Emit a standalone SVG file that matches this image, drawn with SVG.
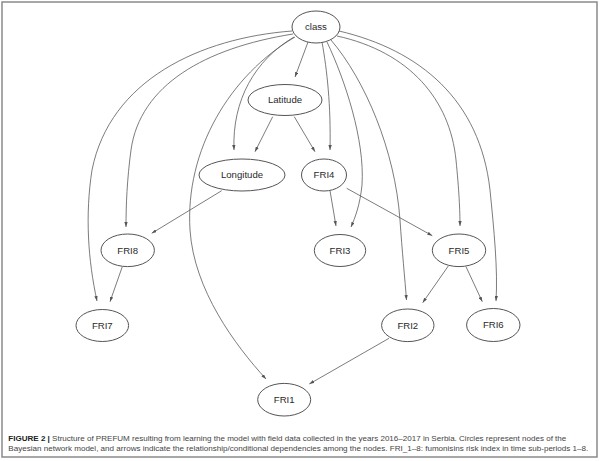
<svg xmlns="http://www.w3.org/2000/svg" width="600" height="461" viewBox="0 0 600 461">
<style>
.node ellipse{fill:#fff;stroke:#555;stroke-width:1}
.node text{font-family:"Liberation Sans",Arial,sans-serif;font-size:9.6px;fill:#2a2a2a;text-anchor:middle}
.edges path{fill:none;stroke:#5a5a5a;stroke-width:0.8;marker-end:url(#ah)}
.cap{font-family:"Liberation Sans",Arial,sans-serif;font-size:8px;fill:#444}
</style>
<defs>
<marker id="ah" viewBox="0 0 6 4" refX="6" refY="2" markerWidth="5" markerHeight="3.5" markerUnits="userSpaceOnUse" orient="auto">
<path d="M0,0 L6,2 L0,4 z" fill="#555"/>
</marker>
</defs>
<rect x="0" y="0" width="600" height="461" fill="#fff"/>
<rect x="2" y="2" width="595" height="455" fill="none" stroke="#8a8a8a" stroke-width="1.5"/>
<g class="edges">
<path d="M292,31 C200,38 110,80 92,170 C85,215 88,260 97,301"/>
<path d="M293,34 C205,48 140,85 131,150 C127,180 126,205 126,227"/>
<path d="M295,37 C230,75 185,150 190,230 C194,290 235,345 266,379"/>
<path d="M294,37 C255,60 232,100 234,150"/>
<path d="M308,42 L295,77"/>
<path d="M322,42 C327,70 331,105 330,150"/>
<path d="M327,42 C345,80 365,140 362,185 C360,205 355,218 351,227"/>
<path d="M331,40 C365,80 395,150 400,220 C402,250 405,280 406.5,300"/>
<path d="M337,36 C410,52 450,100 456,160 C459,190 460,210 460,226"/>
<path d="M339,31 C420,50 480,100 490,190 C494,230 498,270 496,301"/>
<path d="M272.7,116.7 L255,151.7"/>
<path d="M294.3,116.7 L315,151.7"/>
<path d="M221.7,190.7 L151.7,233.3"/>
<path d="M330,190.7 L336,226"/>
<path d="M346.7,188.3 L432.3,235.7"/>
<path d="M122.3,266.7 L110,301.7"/>
<path d="M448.3,266 L422.7,302.7"/>
<path d="M466,266.7 L482.3,301.7"/>
<path d="M389,338.3 L309.3,384"/>
</g>
<g id="class" class="node"><ellipse cx="316" cy="27" rx="24" ry="16"/><text x="316" y="30.4">class</text></g>
<g id="Latitude" class="node"><ellipse cx="285" cy="100" rx="37" ry="15.5"/><text x="285" y="103.4">Latitude</text></g>
<g id="Longitude" class="node"><ellipse cx="242" cy="175" rx="43" ry="16"/><text x="242" y="178.4">Longitude</text></g>
<g id="FRI4" class="node"><ellipse cx="324" cy="175" rx="22.5" ry="16"/><text x="324" y="178.4">FRI4</text></g>
<g id="FRI8" class="node"><ellipse cx="127.7" cy="250.3" rx="26.7" ry="16.3"/><text x="127.7" y="253.7">FRI8</text></g>
<g id="FRI3" class="node"><ellipse cx="340" cy="250.5" rx="25.7" ry="16"/><text x="340" y="253.9">FRI3</text></g>
<g id="FRI5" class="node"><ellipse cx="459" cy="250.3" rx="26.7" ry="16.3"/><text x="459" y="253.7">FRI5</text></g>
<g id="FRI7" class="node"><ellipse cx="102.3" cy="325.5" rx="26.3" ry="16"/><text x="102.3" y="328.9">FRI7</text></g>
<g id="FRI2" class="node"><ellipse cx="407.8" cy="325.3" rx="26.2" ry="16.3"/><text x="407.8" y="328.7">FRI2</text></g>
<g id="FRI6" class="node"><ellipse cx="493.3" cy="325" rx="26.7" ry="16.5"/><text x="493.3" y="328.4">FRI6</text></g>
<g id="FRI1" class="node"><ellipse cx="284.2" cy="399.7" rx="26.5" ry="16.3"/><text x="284.2" y="403.1">FRI1</text></g>
<text class="cap" x="8.3" y="441" textLength="558" lengthAdjust="spacingAndGlyphs"><tspan font-weight="bold" fill="#222">FIGURE 2 |</tspan> Structure of PREFUM resulting from learning the model with field data collected in the years 2016–2017 in Serbia. Circles represent nodes of the</text>
<text class="cap" x="8.3" y="451" textLength="580" lengthAdjust="spacingAndGlyphs">Bayesian network model, and arrows indicate the relationship/conditional dependencies among the nodes. FRI_1–8: fumonisins risk index in time sub-periods 1–8.</text>
</svg>
